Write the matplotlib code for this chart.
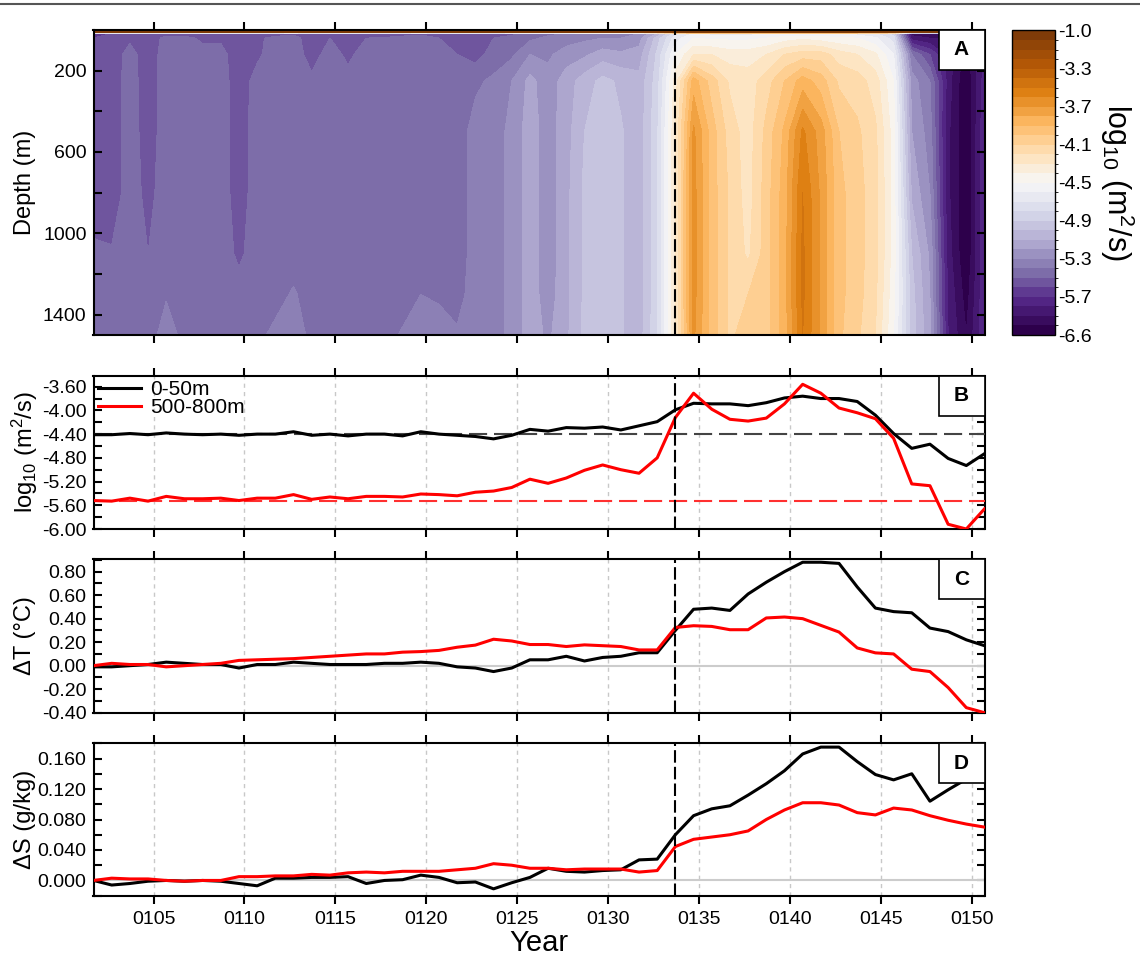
#!/usr/bin/env python3
"""Vertical diffusivity section (A) with layer-mean diffusivity, temperature and salinity anomalies (B-D)."""

import matplotlib

matplotlib.use("Agg")

import matplotlib.pyplot as plt
import numpy as np
from matplotlib.colors import BoundaryNorm
from matplotlib.lines import Line2D
from matplotlib.patches import Rectangle
from matplotlib.ticker import FixedLocator, FormatStrFormatter, FuncFormatter, MultipleLocator

# ---------------------------------------------------------------- data
years = np.arange(101, 151) + 0.7
event_year = 133.7

# panel A: log10 Kv (m2/s), one row per year, columns follow kv_depths
kv_depths = [0, 10, 17, 40, 120, 250, 500, 800, 1100, 1300, 1500]
kv_log10 = [
    [-2.60, -2.60, -5.60, -5.60, -5.60, -5.58, -5.56, -5.56, -5.48, -5.45, -5.45],
    [-2.60, -2.60, -5.60, -5.58, -5.56, -5.56, -5.56, -5.56, -5.49, -5.45, -5.45],
    [-2.60, -2.60, -5.58, -5.52, -5.46, -5.45, -5.45, -5.45, -5.45, -5.45, -5.42],
    [-2.60, -2.60, -5.60, -5.58, -5.56, -5.56, -5.55, -5.53, -5.50, -5.45, -5.45],
    [-2.60, -2.60, -5.56, -5.46, -5.45, -5.45, -5.45, -5.45, -5.45, -5.41, -5.35],
    [-2.60, -2.60, -5.55, -5.47, -5.45, -5.45, -5.45, -5.45, -5.45, -5.45, -5.43],
    [-2.60, -2.60, -5.56, -5.52, -5.46, -5.45, -5.45, -5.45, -5.45, -5.45, -5.44],
    [-2.60, -2.60, -5.57, -5.52, -5.46, -5.45, -5.45, -5.45, -5.45, -5.45, -5.44],
    [-2.60, -2.60, -5.60, -5.58, -5.57, -5.56, -5.55, -5.55, -5.52, -5.46, -5.45],
    [-2.60, -2.60, -5.56, -5.52, -5.52, -5.46, -5.45, -5.45, -5.45, -5.44, -5.42],
    [-2.60, -2.60, -5.55, -5.47, -5.45, -5.45, -5.45, -5.45, -5.45, -5.43, -5.38],
    [-2.60, -2.60, -5.52, -5.46, -5.45, -5.45, -5.45, -5.45, -5.44, -5.39, -5.36],
    [-2.60, -2.60, -5.58, -5.56, -5.54, -5.48, -5.45, -5.45, -5.45, -5.44, -5.42],
    [-2.60, -2.60, -5.56, -5.50, -5.46, -5.45, -5.45, -5.45, -5.45, -5.45, -5.43],
    [-2.60, -2.60, -5.58, -5.55, -5.52, -5.47, -5.45, -5.45, -5.45, -5.45, -5.42],
    [-2.60, -2.60, -5.56, -5.50, -5.46, -5.45, -5.45, -5.45, -5.45, -5.44, -5.41],
    [-2.60, -2.60, -5.56, -5.49, -5.46, -5.45, -5.45, -5.45, -5.45, -5.45, -5.43],
    [-2.60, -2.60, -5.54, -5.47, -5.45, -5.45, -5.45, -5.45, -5.45, -5.44, -5.39],
    [-2.60, -2.60, -5.52, -5.46, -5.45, -5.45, -5.45, -5.45, -5.44, -5.40, -5.36],
    [-2.60, -2.60, -5.56, -5.50, -5.46, -5.45, -5.45, -5.45, -5.45, -5.41, -5.37],
    [-2.60, -2.60, -5.57, -5.54, -5.50, -5.46, -5.45, -5.45, -5.45, -5.43, -5.39],
    [-2.60, -2.60, -5.58, -5.56, -5.54, -5.42, -5.36, -5.36, -5.36, -5.36, -5.36],
    [-2.60, -2.60, -5.56, -5.50, -5.46, -5.38, -5.35, -5.35, -5.35, -5.35, -5.35],
    [-2.60, -2.60, -5.52, -5.47, -5.42, -5.30, -5.27, -5.27, -5.27, -5.27, -5.27],
    [-2.60, -2.60, -5.48, -5.42, -5.30, -5.17, -5.15, -5.15, -5.15, -5.15, -5.15],
    [-2.60, -2.60, -5.42, -5.38, -5.32, -5.26, -5.25, -5.26, -5.26, -5.25, -5.22],
    [-2.60, -2.60, -5.40, -5.35, -5.25, -5.15, -5.14, -5.13, -5.13, -5.13, -5.12],
    [-2.60, -2.60, -5.38, -5.32, -5.22, -5.05, -5.00, -4.98, -4.98, -4.98, -4.98],
    [-2.60, -2.60, -5.36, -5.30, -5.15, -4.97, -4.95, -4.95, -4.95, -4.95, -4.95],
    [-2.60, -2.60, -5.35, -5.30, -5.18, -5.02, -4.99, -4.99, -4.99, -4.99, -4.99],
    [-2.60, -2.60, -5.30, -5.25, -5.15, -5.07, -5.06, -5.06, -5.06, -5.06, -5.05],
    [-2.60, -2.60, -5.10, -4.95, -4.88, -4.85, -4.82, -4.82, -4.82, -4.82, -4.82],
    [-2.60, -2.60, -4.75, -4.65, -4.50, -4.35, -4.30, -4.30, -4.30, -4.30, -4.30],
    [-2.60, -2.60, -4.60, -4.50, -4.30, -3.85, -3.68, -3.66, -3.66, -3.66, -3.68],
    [-2.60, -2.60, -4.65, -4.52, -4.30, -4.05, -3.95, -3.95, -3.95, -3.95, -3.95],
    [-2.60, -2.60, -4.65, -4.52, -4.35, -4.22, -4.15, -4.12, -4.12, -4.12, -4.12],
    [-2.60, -2.60, -4.65, -4.52, -4.35, -4.25, -4.25, -4.25, -4.22, -4.10, -4.05],
    [-2.60, -2.60, -4.62, -4.50, -4.30, -4.15, -4.07, -4.05, -4.05, -4.05, -4.05],
    [-2.60, -2.60, -4.60, -4.45, -4.20, -4.00, -3.88, -3.85, -3.85, -3.85, -3.85],
    [-2.60, -2.60, -4.60, -4.42, -4.15, -3.85, -3.58, -3.50, -3.48, -3.48, -3.50],
    [-2.60, -2.60, -4.60, -4.45, -4.15, -3.95, -3.75, -3.72, -3.72, -3.72, -3.72],
    [-2.60, -2.60, -4.62, -4.48, -4.25, -4.12, -4.00, -3.97, -3.97, -3.97, -3.98],
    [-2.60, -2.60, -4.65, -4.50, -4.30, -4.15, -4.08, -4.06, -4.06, -4.06, -4.08],
    [-2.60, -2.60, -4.70, -4.58, -4.38, -4.25, -4.18, -4.16, -4.16, -4.18, -4.20],
    [-2.60, -2.60, -4.85, -4.75, -4.60, -4.50, -4.45, -4.45, -4.45, -4.47, -4.50],
    [-2.60, -2.60, -5.95, -5.85, -5.40, -5.25, -5.20, -5.12, -5.00, -4.96, -4.95],
    [-2.60, -2.60, -5.95, -5.90, -5.60, -5.40, -5.35, -5.30, -5.22, -5.20, -5.18],
    [-2.60, -2.60, -5.90, -5.90, -5.85, -5.85, -5.88, -5.88, -5.85, -5.82, -5.80],
    [-2.60, -2.60, -6.00, -6.00, -6.05, -6.10, -6.10, -6.10, -6.10, -6.05, -6.00],
    [-2.60, -2.60, -5.80, -5.80, -5.78, -5.75, -5.72, -5.72, -5.72, -5.72, -5.72],
]
kv_levels = [-6.6] + [round(-6.0 + 0.1 * i, 1) for i in range(31)] + [-1.0]

# panel B: layer-mean log10 Kv
kv_0_50 = [
    -4.41, -4.41, -4.39, -4.41, -4.38, -4.40, -4.41, -4.40, -4.42, -4.40,
    -4.40, -4.36, -4.42, -4.40, -4.43, -4.40, -4.40, -4.43, -4.36, -4.40,
    -4.42, -4.44, -4.48, -4.42, -4.32, -4.35, -4.29, -4.30, -4.28, -4.33,
    -4.26, -4.19, -3.99, -3.88, -3.89, -3.89, -3.92, -3.87, -3.79, -3.76,
    -3.80, -3.80, -3.85, -4.08, -4.39, -4.64, -4.57, -4.81, -4.93, -4.73,
]
kv_500_800 = [
    -5.52, -5.53, -5.48, -5.53, -5.45, -5.49, -5.49, -5.48, -5.52, -5.48,
    -5.48, -5.42, -5.50, -5.46, -5.49, -5.45, -5.45, -5.46, -5.41, -5.42,
    -5.44, -5.38, -5.36, -5.30, -5.16, -5.23, -5.14, -5.01, -4.92, -5.00,
    -5.06, -4.80, -4.12, -3.71, -3.98, -4.15, -4.18, -4.13, -3.89, -3.56,
    -3.71, -3.96, -4.04, -4.14, -4.47, -5.24, -5.27, -5.92, -6.00, -5.66,
]
kv_ref_0_50 = -4.40
kv_ref_500_800 = -5.52

# panel C: temperature anomaly (degC)
dT_0_50 = [
    -0.01, -0.01, 0.00, 0.01, 0.03, 0.02, 0.01, 0.01, -0.02, 0.01,
    0.01, 0.03, 0.02, 0.01, 0.01, 0.01, 0.02, 0.02, 0.03, 0.02,
    -0.01, -0.02, -0.05, -0.02, 0.05, 0.05, 0.08, 0.04, 0.07, 0.08,
    0.11, 0.11, 0.30, 0.48, 0.49, 0.47, 0.61, 0.71, 0.80, 0.88,
    0.88, 0.87, 0.67, 0.49, 0.46, 0.45, 0.32, 0.29, 0.22, 0.17,
]
dT_500_800 = [
    0.00, 0.02, 0.01, 0.01, -0.01, 0.00, 0.01, 0.02, 0.045, 0.05,
    0.055, 0.06, 0.07, 0.08, 0.09, 0.10, 0.10, 0.115, 0.12, 0.13,
    0.157, 0.175, 0.225, 0.21, 0.18, 0.18, 0.163, 0.177, 0.17, 0.163,
    0.134, 0.134, 0.325, 0.34, 0.334, 0.306, 0.306, 0.406, 0.414, 0.40,
    0.343, 0.286, 0.151, 0.109, 0.10, -0.03, -0.05, -0.186, -0.357, -0.40,
]

# panel D: salinity anomaly (g/kg)
dS_0_50 = [
    0.000, -0.006, -0.004, -0.001, 0.000, -0.001, 0.000, -0.001, -0.004, -0.007,
    0.003, 0.003, 0.004, 0.004, 0.005, -0.004, 0.000, 0.001, 0.007, 0.004,
    -0.003, -0.002, -0.011, -0.003, 0.004, 0.016, 0.012, 0.011, 0.013, 0.014,
    0.027, 0.028, 0.060, 0.085, 0.094, 0.098, 0.112, 0.127, 0.144, 0.166,
    0.175, 0.175, 0.156, 0.139, 0.132, 0.140, 0.104, 0.119, 0.133, 0.150,
]
dS_500_800 = [
    0.000, 0.003, 0.002, 0.002, 0.000, -0.001, 0.000, 0.000, 0.005, 0.005,
    0.006, 0.006, 0.008, 0.007, 0.010, 0.011, 0.010, 0.012, 0.012, 0.012,
    0.014, 0.016, 0.022, 0.020, 0.016, 0.016, 0.014, 0.015, 0.015, 0.015,
    0.011, 0.013, 0.0445, 0.054, 0.057, 0.060, 0.065, 0.080, 0.0925, 0.102,
    0.102, 0.099, 0.089, 0.086, 0.095, 0.0925, 0.085, 0.079, 0.074, 0.070,
]

# ---------------------------------------------------------------- style
W, H = 1140, 955
RED = "#ff0000"
GRID = "#c8c8c8"

plt.rcParams["font.family"] = ["Liberation Sans", "DejaVu Sans"]
plt.rcParams["mathtext.fontset"] = "custom"
plt.rcParams["mathtext.rm"] = "Liberation Sans"
plt.rcParams["mathtext.it"] = "Liberation Sans:italic"
plt.rcParams["mathtext.default"] = "regular"
plt.rcParams["axes.unicode_minus"] = False
plt.rcParams["axes.linewidth"] = 1.5


def _add_axes(fig, left, top, right, bottom):
    return fig.add_axes([left / W, 1 - bottom / H, (right - left) / W, (bottom - top) / H])


def _style_axes(ax):
    ax.set_xlim(years[0], years[-1])
    ax.xaxis.set_major_locator(MultipleLocator(5))
    ax.tick_params(axis="x", which="both", direction="out", top=True, bottom=True,
                   length=6, width=1.5, labelsize=14, pad=5)
    ax.tick_params(axis="y", which="both", direction="in", left=True, right=True,
                   length=6, width=1.5, labelsize=14, pad=5)
    ax.tick_params(labelbottom=False)
    ax.axvline(event_year, color="black", lw=1.5, dashes=(6, 2), zorder=6)


def _panel_tag(ax, letter):
    bb = ax.get_position()
    w = 46 / (bb.width * W)
    h = 40 / (bb.height * H)
    ax.add_patch(Rectangle((1 - w, 1 - h), w, h, transform=ax.transAxes, facecolor="white",
                           edgecolor="black", lw=1.2, zorder=10, clip_on=False))
    ax.text(1 - w / 2, 1 - h / 2, letter, transform=ax.transAxes, ha="center", va="center",
            fontsize=15, fontweight="bold", zorder=11)


def _ylabel(fig, ax, text):
    bb = ax.get_position()
    fig.text(25 / W, bb.y0 + bb.height / 2, text, rotation=90, ha="center", va="center",
             fontsize=17)


def _series_panel(ax, upper, lower):
    ax.grid(axis="x", color=GRID, lw=1.0, linestyle=(0, (3, 3)))
    ax.set_axisbelow(True)
    ax.plot(years, upper, color="black", lw=2.2, zorder=4, label="0-50m")
    ax.plot(years, lower, color=RED, lw=2.2, zorder=4, label="500-800m")


def main():
    fig = plt.figure(figsize=(W / 100, H / 100), dpi=100)
    fig.add_artist(Line2D([0, 1], [1 - 4.5 / H, 1 - 4.5 / H], transform=fig.transFigure,
                          color="#555555", lw=1.5))

    # A -- diffusivity section
    ax_a = _add_axes(fig, 93.5, 30, 984.5, 335)
    cmap = plt.get_cmap("PuOr_r")
    norm = BoundaryNorm(kv_levels, ncolors=cmap.N)
    field = np.array(kv_log10).T
    cs = ax_a.contourf(years, kv_depths, field, levels=kv_levels, cmap=cmap, norm=norm)
    ax_a.set_ylim(1500, 0)
    ax_a.yaxis.set_major_locator(FixedLocator([200, 600, 1000, 1400]))
    ax_a.yaxis.set_minor_locator(FixedLocator([400, 800, 1200]))
    _style_axes(ax_a)
    _panel_tag(ax_a, "A")
    _ylabel(fig, ax_a, "Depth (m)")

    cax = _add_axes(fig, 1012, 30.5, 1055, 335)
    cbar = fig.colorbar(cs, cax=cax, ticks=kv_levels[::4])
    cbar.ax.set_yticklabels([f"{v:.1f}" for v in kv_levels[::4]])
    cbar.ax.tick_params(length=0, labelsize=14, pad=2)
    cbar.outline.set_linewidth(1.0)
    cax.text(2.45, 0.5, "log$_{10}$ (m$^{2}$/s)", transform=cax.transAxes, rotation=270,
             ha="center", va="center", fontsize=22)

    # B -- layer-mean diffusivity
    ax_b = _add_axes(fig, 93.5, 376, 984.5, 529)
    _series_panel(ax_b, kv_0_50, kv_500_800)
    ax_b.axhline(kv_ref_0_50, color="#444444", lw=1.5, dashes=(8.7, 3.3), zorder=3)
    ax_b.axhline(kv_ref_500_800, color="#ff3030", lw=1.5, dashes=(8.7, 3.3), zorder=3)
    ax_b.set_ylim(-6.0, -3.42)
    ax_b.yaxis.set_major_locator(MultipleLocator(0.4))
    ax_b.yaxis.set_minor_locator(MultipleLocator(0.2))
    ax_b.yaxis.set_major_formatter(FormatStrFormatter("%.2f"))
    _style_axes(ax_b)
    _panel_tag(ax_b, "B")
    _ylabel(fig, ax_b, "log$_{10}$ (m$^{2}$/s)")
    ax_b.legend(loc="upper left", frameon=False, fontsize=15, handlelength=2.1,
                handletextpad=0.4, labelspacing=-0.05, borderaxespad=0.0, borderpad=0.2)

    # C -- temperature anomaly
    ax_c = _add_axes(fig, 93.5, 559.3, 984.5, 712.7)
    ax_c.axhline(0, color="#cccccc", lw=1.5, zorder=2)
    _series_panel(ax_c, dT_0_50, dT_500_800)
    ax_c.set_ylim(-0.40, 0.905)
    ax_c.yaxis.set_major_locator(MultipleLocator(0.2))
    ax_c.yaxis.set_minor_locator(MultipleLocator(0.1))
    ax_c.yaxis.set_major_formatter(FormatStrFormatter("%.2f"))
    _style_axes(ax_c)
    _panel_tag(ax_c, "C")
    _ylabel(fig, ax_c, "ΔT (°C)")

    # D -- salinity anomaly
    ax_d = _add_axes(fig, 93.5, 743.3, 984.5, 895.7)
    ax_d.axhline(0, color="#cccccc", lw=1.5, zorder=2)
    _series_panel(ax_d, dS_0_50, dS_500_800)
    ax_d.set_ylim(-0.02, 0.18)
    ax_d.yaxis.set_major_locator(MultipleLocator(0.04))
    ax_d.yaxis.set_minor_locator(MultipleLocator(0.02))
    ax_d.yaxis.set_major_formatter(FormatStrFormatter("%.3f"))
    _style_axes(ax_d)
    ax_d.tick_params(labelbottom=True)
    ax_d.xaxis.set_major_formatter(FuncFormatter(lambda v, _: f"{int(round(v)):04d}"))
    _panel_tag(ax_d, "D")
    _ylabel(fig, ax_d, "ΔS (g/kg)")
    fig.text(539 / W, 1 - 943 / H, "Year", ha="center", va="center", fontsize=21)

    fig.savefig("out.png", dpi=100)
    plt.close(fig)


if __name__ == "__main__":
    main()
